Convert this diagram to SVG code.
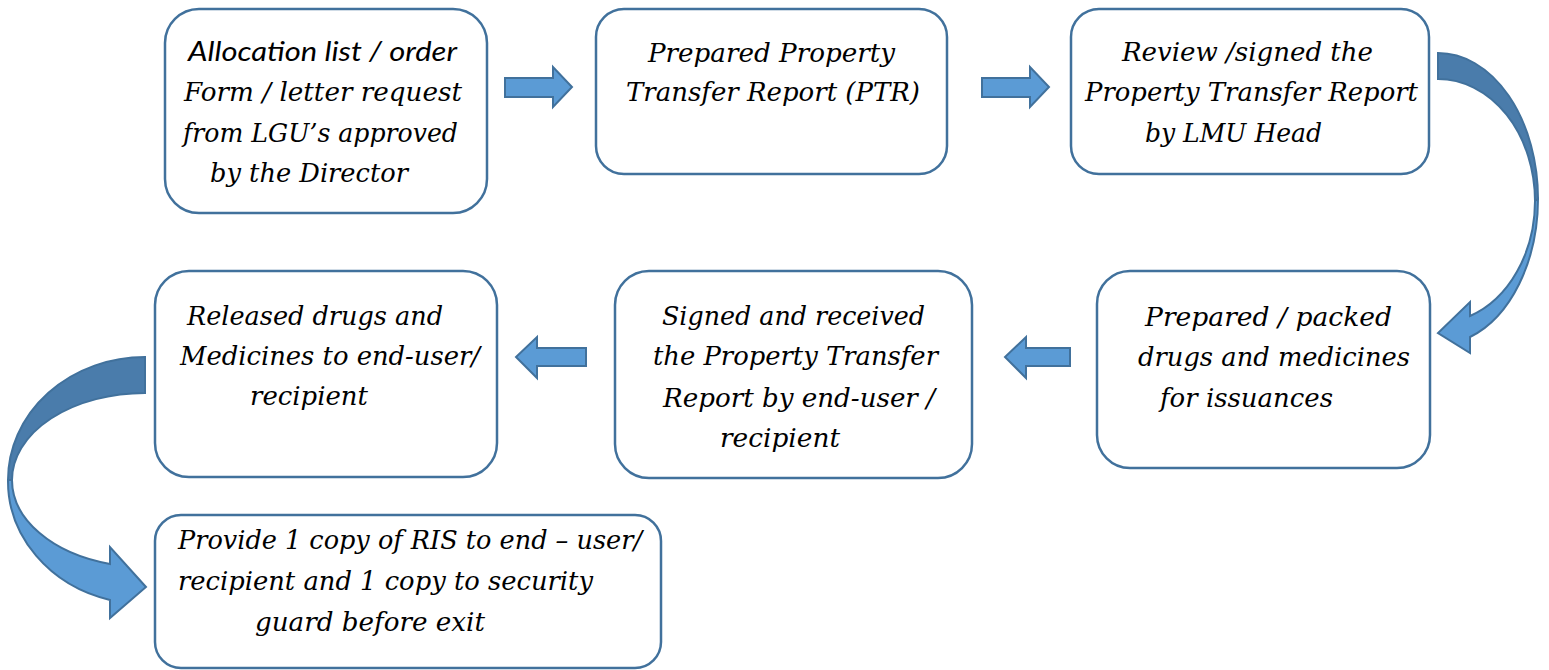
<svg xmlns="http://www.w3.org/2000/svg" width="1549" height="670" viewBox="0 0 1549 670">
<style>
.box{fill:#FFFFFF;stroke:#41719C;stroke-width:2.5}
.t{font-family:"DejaVu Serif","Liberation Serif",serif;font-style:italic;font-size:26px;fill:#000}
.c{font-family:Lato,"Open Sans","Liberation Sans",sans-serif;font-style:italic;font-size:27px;fill:#000}
.arr{fill:#5B9BD5;stroke:#41719C;stroke-width:2;stroke-linejoin:miter}
.back{fill:#4A7CAB;stroke:#41719C;stroke-width:2}
</style>
<rect width="1549" height="670" fill="#FFFFFF"/>
<g id="connectors">
<path class="arr" d="M505,78 L553,78 L553,67 L572,87 L553,107 L553,97 L505,97 Z"/>
<path class="arr" d="M982,78 L1030,78 L1030,67 L1049,87 L1030,107 L1030,97 L982,97 Z"/>
<path class="back" d="M1438,53 A100,146 0 0 1 1538,199 L1535,201 A97,122 0 0 0 1438,79 Z"/>
<path class="arr" d="M1538,199 A100,146 0 0 1 1470,337 L1470,353 L1438,333 L1470,302 L1470,316 A97,122 0 0 0 1535,201 Z"/>
<path class="arr" d="M1070,348 L1026,348 L1026,337 L1005,357 L1026,378 L1026,366 L1070,366 Z"/>
<path class="arr" d="M586,348 L537,348 L537,337 L516,357 L537,378 L537,366 L586,366 Z"/>
<path class="back" d="M145,357 A137,123 0 0 0 8,480 L12,480 A133,87 0 0 1 145,393 Z"/>
<path class="arr" d="M8,480 A137,123 0 0 0 110,600 L110,618 L146,587 L110,547 L110,564 A133,87 0 0 1 12,480 Z"/>
</g>
<g id="node1">
<rect class="box" x="165" y="9" width="322" height="204" rx="34"/>
<text class="c" x="188" y="61" textLength="269" lengthAdjust="spacingAndGlyphs">Allocation list / order</text>
<text class="t" x="184" y="101" textLength="278" lengthAdjust="spacingAndGlyphs">Form / letter request</text>
<text class="t" x="183" y="142" textLength="275" lengthAdjust="spacingAndGlyphs">from LGU’s approved</text>
<text class="t" x="210" y="182" textLength="198" lengthAdjust="spacingAndGlyphs">by the Director</text>
</g>
<g id="node2">
<rect class="box" x="596" y="9" width="351" height="165" rx="28"/>
<text class="t" x="648" y="62" textLength="247" lengthAdjust="spacingAndGlyphs">Prepared Property</text>
<text class="t" x="626" y="101" textLength="294" lengthAdjust="spacingAndGlyphs">Transfer Report (PTR)</text>
</g>
<g id="node3">
<rect class="box" x="1071" y="9" width="358" height="165" rx="28"/>
<text class="t" x="1122" y="61" textLength="251" lengthAdjust="spacingAndGlyphs">Review /signed the</text>
<text class="t" x="1085" y="101" textLength="333" lengthAdjust="spacingAndGlyphs">Property Transfer Report</text>
<text class="t" x="1145" y="142" textLength="177" lengthAdjust="spacingAndGlyphs">by LMU Head</text>
</g>
<g id="node4">
<rect class="box" x="1097" y="271" width="333" height="197" rx="33"/>
<text class="t" x="1145" y="326" textLength="247" lengthAdjust="spacingAndGlyphs">Prepared / packed</text>
<text class="t" x="1138" y="366" textLength="272" lengthAdjust="spacingAndGlyphs">drugs and medicines</text>
<text class="t" x="1160" y="407" textLength="173" lengthAdjust="spacingAndGlyphs">for issuances</text>
</g>
<g id="node5">
<rect class="box" x="615" y="271" width="357" height="207" rx="34"/>
<text class="t" x="662" y="325" textLength="263" lengthAdjust="spacingAndGlyphs">Signed and received</text>
<text class="t" x="653" y="365" textLength="285" lengthAdjust="spacingAndGlyphs">the Property Transfer</text>
<text class="t" x="663" y="407" textLength="272" lengthAdjust="spacingAndGlyphs">Report by end-user /</text>
<text class="t" x="720" y="447" textLength="120" lengthAdjust="spacingAndGlyphs">recipient</text>
</g>
<g id="node6">
<rect class="box" x="155" y="271" width="342" height="206" rx="34"/>
<text class="t" x="187" y="325" textLength="256" lengthAdjust="spacingAndGlyphs">Released drugs and</text>
<text class="t" x="180" y="365" textLength="300" lengthAdjust="spacingAndGlyphs">Medicines to end-user/</text>
<text class="t" x="250" y="405" textLength="118" lengthAdjust="spacingAndGlyphs">recipient</text>
</g>
<g id="node7">
<rect class="box" x="155" y="515" width="506" height="153" rx="26"/>
<text class="t" x="178" y="549" textLength="464" lengthAdjust="spacingAndGlyphs">Provide 1 copy of RIS to end – user/</text>
<text class="t" x="178" y="590" textLength="415" lengthAdjust="spacingAndGlyphs">recipient and 1 copy to security</text>
<text class="t" x="255" y="631" textLength="230" lengthAdjust="spacingAndGlyphs">guard before exit</text>
</g>
</svg>
